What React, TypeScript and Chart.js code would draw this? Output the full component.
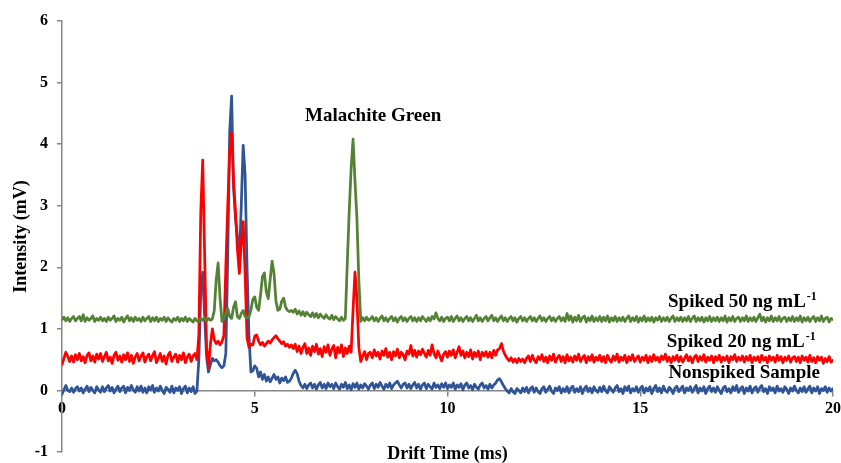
import { useEffect, useRef } from 'react';
import { Chart, registerables } from 'chart.js';

Chart.register(...registerables);

// Sampling step of the drift-time axis (ms)
const SAMPLE_STEP_MS = 0.05;

// Nonspiked Sample (mV), one value per 0.05 ms from 0 to 20 ms
const NONSPIKED = [
  -0.06, 0.01, 0.08, 0.0, -0.02, 0.04, -0.03, 0.03, 0.06, -0.01, 0.04, -0.04, 0.02, 0.07, -0.02, 0.05, 0.0, -0.04, 0.06, 0.01,
  -0.03, 0.06, -0.02, 0.04, 0.08, -0.01, 0.05, -0.04, 0.02, 0.07, -0.02, 0.04, 0.07, -0.04, 0.05, 0.0, 0.08, 0.01, -0.03, 0.06,
  -0.01, 0.07, -0.03, 0.04, -0.04, 0.06, 0.01, 0.08, -0.03, 0.04, -0.01, 0.07, 0.0, -0.05, 0.05, 0.02, -0.03, 0.07, -0.04, 0.04,
  0.0, 0.06, -0.05, 0.03, 0.07, -0.04, 0.04, -0.02, 0.06, -0.05, -0.01, 0.5, 1.6, 1.92, 1.2, 0.55, 0.3, 0.42, 0.52, 0.48,
  0.5, 0.46, 0.4, 0.37, 0.4, 0.6, 2.2, 4.2, 4.78, 3.3, 2.8, 2.5, 2.1, 3.0, 3.98, 3.5, 2.0, 0.9, 0.3, 0.32,
  0.4, 0.36, 0.22, 0.3, 0.18, 0.26, 0.15, 0.22, 0.14, 0.2, 0.26, 0.18, 0.22, 0.12, 0.2, 0.16, 0.22, 0.13, 0.15, 0.2,
  0.28, 0.33, 0.27, 0.15, 0.08, 0.04, 0.1, 0.03, 0.09, 0.12, 0.04, 0.1, 0.02, 0.09, 0.13, 0.04, 0.1, 0.03, 0.12, 0.06,
  0.1, 0.03, 0.12, 0.06, 0.02, 0.1, 0.05, 0.13, 0.03, 0.09, 0.01, 0.11, 0.05, 0.12, 0.02, 0.09, 0.04, 0.11, 0.07, 0.02,
  0.09, 0.12, 0.03, 0.1, 0.05, 0.13, 0.07, 0.02, 0.1, 0.05, 0.12, 0.03, 0.09, 0.12, 0.15, 0.09, 0.04, 0.1, 0.12, 0.04,
  0.1, 0.03, 0.09, 0.13, 0.04, 0.1, 0.02, 0.09, 0.12, 0.03, 0.1, 0.06, 0.02, 0.12, 0.05, 0.09, 0.03, 0.11, 0.05, 0.12,
  0.03, 0.09, 0.05, 0.12, 0.02, 0.09, 0.05, 0.11, 0.01, 0.09, 0.12, 0.04, 0.08, 0.01, 0.1, 0.05, 0.02, 0.09, 0.12, 0.04,
  0.08, 0.02, 0.1, 0.04, 0.09, 0.12, 0.17, 0.19, 0.14, 0.08, 0.03, -0.01, -0.04, 0.03, -0.02, -0.05, 0.03, 0.0, -0.04, 0.04,
  -0.02, 0.05, -0.04, 0.03, 0.06, -0.03, 0.04, -0.02, -0.05, 0.03, 0.06, -0.03, 0.02, 0.07, -0.01, -0.05, 0.04, 0.0, 0.06, -0.04,
  0.03, -0.02, 0.06, -0.04, 0.04, 0.07, -0.03, 0.03, -0.02, 0.06, -0.05, 0.03, 0.07, -0.02, 0.04, -0.04, 0.06, 0.0, -0.03, 0.05,
  -0.02, 0.07, 0.0, -0.04, 0.06, 0.02, -0.03, 0.04, 0.08, -0.02, 0.03, -0.05, 0.06, 0.0, 0.07, -0.04, 0.03, -0.01, 0.06, -0.03,
  0.03, 0.07, -0.04, 0.04, -0.01, 0.06, -0.05, 0.03, 0.08, -0.02, 0.04, -0.04, 0.07, 0.0, -0.03, 0.05, 0.02, -0.05, 0.04, 0.07,
  -0.02, 0.03, 0.07, -0.04, 0.04, 0.0, 0.06, -0.03, 0.03, 0.08, -0.04, 0.04, -0.01, 0.06, -0.05, 0.03, 0.07, -0.02, 0.04, -0.03,
  0.06, 0.0, -0.05, 0.04, 0.07, -0.02, 0.03, -0.04, 0.06, 0.0, 0.08, -0.03, 0.03, 0.06, -0.05, 0.04, -0.01, 0.07, -0.04, 0.03,
  0.06, -0.03, 0.04, 0.08, -0.02, 0.03, -0.05, 0.06, 0.0, 0.04, -0.04, 0.07, -0.01, 0.03, -0.03, 0.06, 0.02, -0.05, 0.04, -0.01,
  0.07, 0.0, -0.04, 0.04, -0.02, 0.06, -0.03, 0.03, 0.07, -0.04, 0.04, -0.01, 0.06, -0.05, 0.03, 0.0, 0.06, -0.03, 0.04, -0.01,
  0.03,
];

// Spiked 20 ng mL-1 (mV)
const SPIKED_20 = [
  0.42, 0.52, 0.62, 0.55, 0.47, 0.56, 0.46, 0.58, 0.5, 0.6, 0.48, 0.55, 0.45, 0.57, 0.61, 0.48, 0.56, 0.46, 0.59, 0.51,
  0.6, 0.47, 0.55, 0.62, 0.48, 0.54, 0.44, 0.57, 0.62, 0.49, 0.56, 0.46, 0.58, 0.5, 0.61, 0.47, 0.57, 0.44, 0.54, 0.6,
  0.48, 0.56, 0.61, 0.46, 0.54, 0.59, 0.48, 0.57, 0.63, 0.45, 0.52, 0.6, 0.47, 0.56, 0.43, 0.57, 0.62, 0.47, 0.54, 0.59,
  0.46, 0.57, 0.5, 0.61, 0.45, 0.54, 0.59, 0.47, 0.56, 0.6, 0.5, 0.9, 2.9, 3.74, 2.2, 0.7, 0.37, 0.75, 1.0, 0.82,
  0.76, 0.8, 0.74, 0.79, 0.9, 2.0, 3.0, 3.9, 4.18, 3.4, 2.9, 2.3, 1.9, 2.4, 2.74, 1.9, 0.85, 0.7, 0.75, 0.74,
  0.88, 0.9, 0.8, 0.74, 0.78, 0.72, 0.76, 0.8, 0.77, 0.82, 0.86, 0.89, 0.84, 0.8, 0.76, 0.79, 0.72, 0.75, 0.7, 0.74,
  0.68, 0.75, 0.63, 0.72, 0.6, 0.7, 0.76, 0.6, 0.69, 0.57, 0.72, 0.63, 0.75, 0.59, 0.68, 0.55, 0.71, 0.62, 0.74, 0.57,
  0.67, 0.73, 0.53, 0.7, 0.61, 0.74, 0.55, 0.69, 0.6, 0.72, 0.62, 1.3, 1.92, 1.5, 0.7, 0.47, 0.56, 0.63, 0.5, 0.6,
  0.62, 0.53, 0.66, 0.56, 0.62, 0.51, 0.64, 0.57, 0.68, 0.54, 0.62, 0.5, 0.63, 0.56, 0.67, 0.53, 0.62, 0.58, 0.5, 0.64,
  0.59, 0.73, 0.56, 0.65, 0.54, 0.64, 0.58, 0.67, 0.6, 0.54, 0.65, 0.57, 0.74, 0.6, 0.53, 0.64, 0.56, 0.48, 0.59, 0.63,
  0.54, 0.64, 0.57, 0.66, 0.53, 0.62, 0.71, 0.57, 0.64, 0.53, 0.62, 0.55, 0.66, 0.51, 0.62, 0.55, 0.64, 0.5, 0.62, 0.56,
  0.63, 0.54, 0.62, 0.53, 0.65, 0.57, 0.66, 0.68, 0.76, 0.64, 0.57, 0.52, 0.48, 0.53, 0.46, 0.51, 0.45, 0.52, 0.47, 0.51,
  0.45, 0.52, 0.56, 0.47, 0.57, 0.49, 0.45, 0.55, 0.5, 0.58, 0.47, 0.54, 0.45, 0.56, 0.49, 0.59, 0.46, 0.53, 0.57, 0.47,
  0.55, 0.45, 0.58, 0.48, 0.54, 0.46, 0.56, 0.49, 0.59, 0.47, 0.53, 0.57, 0.45, 0.55, 0.49, 0.58, 0.46, 0.54, 0.49, 0.57,
  0.47, 0.55, 0.45, 0.57, 0.5, 0.46, 0.56, 0.49, 0.59, 0.46, 0.54, 0.49, 0.57, 0.45, 0.55, 0.49, 0.58, 0.47, 0.52, 0.56,
  0.46, 0.54, 0.49, 0.57, 0.45, 0.55, 0.47, 0.58, 0.49, 0.54, 0.46, 0.56, 0.5, 0.59, 0.47, 0.54, 0.45, 0.55, 0.49, 0.57,
  0.47, 0.55, 0.46, 0.52, 0.58, 0.48, 0.55, 0.45, 0.54, 0.57, 0.47, 0.55, 0.49, 0.58, 0.46, 0.54, 0.49, 0.56, 0.45, 0.55,
  0.49, 0.57, 0.46, 0.54, 0.49, 0.56, 0.45, 0.55, 0.5, 0.58, 0.47, 0.54, 0.49, 0.56, 0.46, 0.55, 0.49, 0.57, 0.45, 0.54,
  0.49, 0.55, 0.46, 0.57, 0.49, 0.54, 0.45, 0.56, 0.49, 0.54, 0.46, 0.57, 0.49, 0.55, 0.45, 0.54, 0.49, 0.56, 0.46, 0.53,
  0.55, 0.47, 0.54, 0.45, 0.56, 0.49, 0.54, 0.46, 0.57, 0.47, 0.53, 0.45, 0.55, 0.49, 0.54, 0.44, 0.52, 0.47, 0.55, 0.46,
  0.49,
];

// Spiked 50 ng mL-1 (mV)
const SPIKED_50 = [
  1.15, 1.19, 1.13, 1.18, 1.12, 1.17, 1.2, 1.13, 1.17, 1.2, 1.13, 1.23, 1.12, 1.18, 1.14, 1.17, 1.21, 1.12, 1.17, 1.14,
  1.19, 1.13, 1.17, 1.12, 1.19, 1.14, 1.17, 1.21, 1.12, 1.17, 1.14, 1.19, 1.11, 1.17, 1.21, 1.13, 1.18, 1.12, 1.19, 1.14,
  1.17, 1.12, 1.19, 1.13, 1.17, 1.2, 1.12, 1.18, 1.13, 1.19, 1.12, 1.17, 1.14, 1.19, 1.12, 1.18, 1.14, 1.11, 1.17, 1.14,
  1.19, 1.12, 1.17, 1.13, 1.19, 1.12, 1.17, 1.14, 1.11, 1.17, 1.13, 1.12, 1.17, 1.14, 1.18, 1.13, 1.17, 1.14, 1.16, 1.3,
  1.8, 2.07, 1.5, 1.12, 1.16, 1.25, 1.33, 1.2, 1.17, 1.35, 1.44, 1.2, 1.17, 1.25, 1.3, 1.2, 1.18, 1.2, 1.3, 1.48,
  1.52, 1.35, 1.3, 1.55, 1.85, 1.91, 1.6, 1.49, 1.8, 2.1, 1.9, 1.45, 1.3, 1.32, 1.45, 1.5, 1.35, 1.3, 1.28, 1.3,
  1.27, 1.32, 1.24, 1.29, 1.22, 1.28, 1.21, 1.27, 1.23, 1.2, 1.26, 1.19, 1.25, 1.18, 1.24, 1.2, 1.17, 1.23, 1.18, 1.16,
  1.22, 1.15, 1.2, 1.16, 1.13, 1.19, 1.14, 1.17, 2.06, 2.9, 3.6, 4.08, 3.4, 2.8, 1.8, 1.12, 1.18, 1.13, 1.19, 1.14,
  1.16, 1.2, 1.13, 1.18, 1.12, 1.17, 1.21, 1.13, 1.18, 1.12, 1.17, 1.2, 1.13, 1.18, 1.11, 1.17, 1.2, 1.13, 1.18, 1.12,
  1.17, 1.2, 1.13, 1.18, 1.12, 1.18, 1.13, 1.2, 1.16, 1.12, 1.18, 1.13, 1.2, 1.16, 1.26, 1.17, 1.13, 1.19, 1.12, 1.17,
  1.19, 1.13, 1.2, 1.12, 1.17, 1.21, 1.13, 1.18, 1.12, 1.17, 1.2, 1.13, 1.18, 1.12, 1.17, 1.22, 1.13, 1.18, 1.12, 1.17,
  1.2, 1.13, 1.18, 1.22, 1.13, 1.18, 1.12, 1.17, 1.21, 1.13, 1.18, 1.12, 1.17, 1.2, 1.13, 1.18, 1.11, 1.17, 1.2, 1.13,
  1.18, 1.12, 1.17, 1.2, 1.13, 1.18, 1.12, 1.17, 1.21, 1.13, 1.18, 1.12, 1.17, 1.2, 1.13, 1.18, 1.12, 1.17, 1.2, 1.13,
  1.18, 1.12, 1.25, 1.14, 1.21, 1.11, 1.19, 1.13, 1.22, 1.12, 1.18, 1.21, 1.11, 1.18, 1.13, 1.21, 1.12, 1.18, 1.13, 1.2,
  1.12, 1.19, 1.13, 1.21, 1.11, 1.18, 1.13, 1.2, 1.12, 1.18, 1.13, 1.19, 1.12, 1.17, 1.21, 1.12, 1.18, 1.13, 1.2, 1.11,
  1.18, 1.13, 1.21, 1.12, 1.18, 1.13, 1.19, 1.11, 1.18, 1.14, 1.2, 1.12, 1.18, 1.13, 1.19, 1.12, 1.17, 1.21, 1.12, 1.18,
  1.13, 1.19, 1.12, 1.18, 1.13, 1.2, 1.12, 1.17, 1.21, 1.12, 1.18, 1.13, 1.19, 1.11, 1.18, 1.13, 1.2, 1.12, 1.18, 1.13,
  1.19, 1.12, 1.18, 1.13, 1.21, 1.11, 1.18, 1.13, 1.2, 1.12, 1.17, 1.19, 1.12, 1.18, 1.13, 1.21, 1.12, 1.18, 1.13, 1.19,
  1.12, 1.18, 1.24, 1.13, 1.19, 1.11, 1.18, 1.13, 1.21, 1.12, 1.18, 1.13, 1.2, 1.12, 1.17, 1.19, 1.12, 1.18, 1.13, 1.2,
  1.12, 1.18, 1.13, 1.21, 1.11, 1.18, 1.13, 1.19, 1.12, 1.17, 1.2, 1.12, 1.18, 1.13, 1.21, 1.12, 1.17, 1.19, 1.11, 1.17,
  1.15,
];

const X_MIN = 0;
const X_MAX = 20;
const X_STEP = 5;
const Y_MIN = -1;
const Y_MAX = 6;
const Y_STEP = 1;

const X_TITLE = 'Drift Time (ms)';
const Y_TITLE = 'Intensity (mV)';

// Text labels anchored in data coordinates
const ANNOTATIONS = [
  { text: 'Malachite Green', sup: '', x: 8.07, y: 4.37, align: 'center' },
  { text: 'Spiked 50 ng mL', sup: '-1', x: 15.72, y: 1.36, align: 'left' },
  { text: 'Spiked 20 ng mL', sup: '-1', x: 15.69, y: 0.7, align: 'left' },
  { text: 'Nonspiked Sample', sup: '', x: 15.73, y: 0.2, align: 'left' },
];

const SERIF = "'Liberation Serif', 'Times New Roman', serif";
const AXIS_GRAY = '#868686';

const toPoints = (values: number[]) =>
  values.map((v, i) => ({ x: Math.round(i * SAMPLE_STEP_MS * 100) / 100, y: v }));

const textPlugin = {
  id: 'chartTexts',
  afterDraw(chart: any) {
    const { ctx, chartArea, scales } = chart;
    const xs = scales.x;
    const ys = scales.y;
    ctx.save();
    ctx.fillStyle = '#000';
    ctx.textBaseline = 'alphabetic';
    for (const a of ANNOTATIONS) {
      const px = xs.getPixelForValue(a.x);
      const py = ys.getPixelForValue(a.y);
      ctx.font = `bold 19px ${SERIF}`;
      const w = ctx.measureText(a.text).width;
      ctx.font = `bold 12px ${SERIF}`;
      const sw = a.sup ? ctx.measureText(a.sup).width : 0;
      const left = a.align === 'center' ? px - (w + sw) / 2 : px;
      ctx.font = `bold 19px ${SERIF}`;
      ctx.textAlign = 'left';
      ctx.fillText(a.text, left, py);
      if (a.sup) {
        ctx.font = `bold 12px ${SERIF}`;
        ctx.fillText(a.sup, left + w + 1, py - 7);
      }
    }
    // axis titles
    ctx.font = `bold 18px ${SERIF}`;
    ctx.textAlign = 'center';
    ctx.fillText(X_TITLE, (chartArea.left + chartArea.right) / 2, 459);
    ctx.translate(26, (chartArea.top + chartArea.bottom) / 2);
    ctx.rotate(-Math.PI / 2);
    ctx.fillText(Y_TITLE, 0, 0);
    ctx.restore();
  },
};

export default function App() {
  const ref = useRef<HTMLCanvasElement | null>(null);

  useEffect(() => {
    if (!ref.current) return;
    const lineStyle = { borderWidth: 2.75, pointRadius: 0, fill: false, tension: 0 };
    const chart = new Chart(ref.current, {
      type: 'line',
      data: {
        datasets: [
          { label: 'Spiked 50 ng mL-1', data: toPoints(SPIKED_50), borderColor: '#548235', ...lineStyle },
          { label: 'Spiked 20 ng mL-1', data: toPoints(SPIKED_20), borderColor: '#FF0000', ...lineStyle },
          { label: 'Nonspiked Sample', data: toPoints(NONSPIKED), borderColor: '#2F5597', ...lineStyle },
        ],
      },
      options: {
        animation: false,
        responsive: false,
        layout: { padding: { left: 0, right: 8, top: 21, bottom: 11 } },
        plugins: {
          legend: { display: false },
          tooltip: { enabled: false },
        },
        elements: { line: { borderJoinStyle: 'round', borderCapStyle: 'round' } },
        scales: {
          x: {
            type: 'linear',
            min: X_MIN,
            max: X_MAX,
            position: { y: 0 } as any,
            ticks: {
              stepSize: X_STEP,
              color: '#000',
              font: { family: SERIF, size: 16, weight: 'bold' },
              padding: 4,
              maxRotation: 0,
            },
            grid: {
              drawOnChartArea: false,
              drawTicks: true,
              tickLength: 5,
              color: AXIS_GRAY,
              lineWidth: 1.5,
            },
            border: { display: true, color: AXIS_GRAY, width: 1.5 },
            afterFit: (s: any) => {
              s.height = 0;
              s.paddingLeft = 0;
              s.paddingRight = 0;
            },
          },
          y: {
            type: 'linear',
            min: Y_MIN,
            max: Y_MAX,
            position: 'left',
            ticks: {
              stepSize: Y_STEP,
              color: '#000',
              font: { family: SERIF, size: 16, weight: 'bold' },
              padding: 9,
            },
            grid: {
              drawOnChartArea: false,
              drawTicks: true,
              tickLength: 5,
              color: AXIS_GRAY,
              lineWidth: 1.5,
            },
            border: { display: true, color: AXIS_GRAY, width: 1.5 },
            afterFit: (s: any) => {
              s.width = 62;
              s.paddingTop = 0;
              s.paddingBottom = 0;
            },
          },
        },
      },
      plugins: [textPlugin],
    });
    return () => chart.destroy();
  }, []);

  return (
    <div style={{ position: 'absolute', left: 0, top: 0, width: 841, height: 463, background: '#fff' }}>
      <canvas ref={ref} width={841} height={463} style={{ display: 'block' }} />
    </div>
  );
}
